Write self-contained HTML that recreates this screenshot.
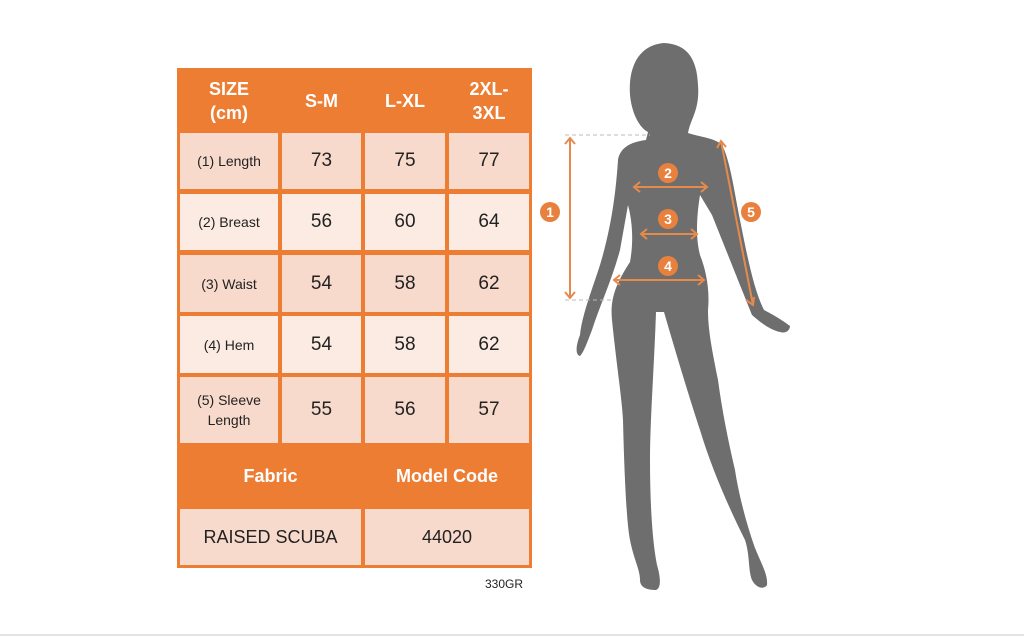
<!DOCTYPE html>
<html><head><style>
body{margin:0;width:1024px;height:638px;background:#fff;position:relative;overflow:hidden;font-family:"Liberation Sans",sans-serif}
.t{position:absolute;left:177px;top:68px;width:355px;height:500px;background:#ec7d32}
.c{position:absolute;display:flex;align-items:center;justify-content:center;text-align:center;color:#222}
.h{color:#fff;font-weight:bold;font-size:18px;line-height:24px}
.a{background:#f8dacd}.b{background:#fcebe3}
.n{font-size:19px}.l{font-size:14px;line-height:20px}
</style></head><body>
<div class="t"></div>
<div class="c h" style="left:180px;top:70px;width:98px;height:61px">SIZE<br>(cm)</div>
<div class="c h" style="left:282px;top:70px;width:79px;height:61px">S-M</div>
<div class="c h" style="left:365px;top:70px;width:80px;height:61px">L-XL</div>
<div class="c h" style="left:449px;top:70px;width:80px;height:61px">2XL-<br>3XL</div>

<div class="c a l" style="left:180px;top:133px;width:98px;height:56px">(1) Length</div>
<div class="c a n" style="left:282px;top:133px;width:79px;height:56px">73</div>
<div class="c a n" style="left:365px;top:133px;width:80px;height:56px">75</div>
<div class="c a n" style="left:449px;top:133px;width:80px;height:56px">77</div>

<div class="c b l" style="left:180px;top:194px;width:98px;height:56px">(2) Breast</div>
<div class="c b n" style="left:282px;top:194px;width:79px;height:56px">56</div>
<div class="c b n" style="left:365px;top:194px;width:80px;height:56px">60</div>
<div class="c b n" style="left:449px;top:194px;width:80px;height:56px">64</div>

<div class="c a l" style="left:180px;top:255px;width:98px;height:57px">(3) Waist</div>
<div class="c a n" style="left:282px;top:255px;width:79px;height:57px">54</div>
<div class="c a n" style="left:365px;top:255px;width:80px;height:57px">58</div>
<div class="c a n" style="left:449px;top:255px;width:80px;height:57px">62</div>

<div class="c b l" style="left:180px;top:316px;width:98px;height:57px">(4) Hem</div>
<div class="c b n" style="left:282px;top:316px;width:79px;height:57px">54</div>
<div class="c b n" style="left:365px;top:316px;width:80px;height:57px">58</div>
<div class="c b n" style="left:449px;top:316px;width:80px;height:57px">62</div>

<div class="c a l" style="left:180px;top:377px;width:98px;height:66px">(5) Sleeve<br>Length</div>
<div class="c a n" style="left:282px;top:377px;width:79px;height:66px">55</div>
<div class="c a n" style="left:365px;top:377px;width:80px;height:66px">56</div>
<div class="c a n" style="left:449px;top:377px;width:80px;height:66px">57</div>

<div class="c h" style="left:180px;top:445px;width:181px;height:62px">Fabric</div>
<div class="c h" style="left:365px;top:445px;width:164px;height:62px">Model Code</div>
<div class="c a" style="left:180px;top:509px;width:181px;height:56px;font-size:18px">RAISED SCUBA</div>
<div class="c a" style="left:365px;top:509px;width:164px;height:56px;font-size:18px">44020</div>
<div style="position:absolute;left:485px;top:577px;font-size:12px;color:#222">330GR</div>
<div style="position:absolute;left:0;top:634px;width:1024px;height:2px;background:#e4e4e4"></div>

<svg style="position:absolute;left:0;top:0" width="1024" height="638">
<path fill="#6e6e6e" d="M664,43 C640,45 628,65 630,95 C632,115 640,128 648,132 L646,140 C630,142 620,148 618,160 C616,190 612,225 600,265 C592,290 582,315 580,335 C576,345 575,355 580,356 C584,352 588,340 592,330 C600,305 612,280 620,250 L628,205 C632,220 634,240 630,262 C615,285 610,300 612,320 C616,360 622,400 623,420 C624,460 626,520 630,540 C634,560 640,570 640,580 C640,588 648,590 656,590 C662,588 660,575 657,565 C652,540 650,500 650,460 C650,420 654,370 656,312 L664,312 C675,350 690,400 700,430 C712,470 730,510 745,540 C750,555 748,570 752,580 C756,588 764,590 767,585 C768,575 762,565 755,548 C745,520 738,490 735,470 C728,440 722,410 718,380 C712,350 708,330 708,310 C710,290 706,270 700,255 C696,240 696,220 700,195 L712,215 C730,260 742,290 752,315 C760,322 770,330 780,332 C786,334 790,330 790,326 C782,320 772,314 764,310 C754,290 748,260 740,220 C734,190 730,160 722,145 C715,138 700,137 688,133 C690,120 700,110 698,85 C697,60 688,44 664,43 Z"/>
<g stroke="#e58a4b" stroke-width="2" fill="none">
<path d="M565,135 L650,135 M565,300 L612,300" stroke="#bbb" stroke-dasharray="4,3" stroke-width="1"/>
<path d="M570,138 L570,298 M565,144 L570,138 L575,144 M565,292 L570,298 L575,292"/>
<path d="M634,187 L707,187 M640,182 L634,187 L640,192 M701,182 L707,187 L701,192"/>
<path d="M641,234 L697,234 M647,229 L641,234 L647,239 M691,229 L697,234 L691,239"/>
<path d="M614,280 L704,280 M620,275 L614,280 L620,285 M698,275 L704,280 L698,285"/>
<path d="M721,141 L753,305 M717,148 L721,141 L726,147 M746,300 L753,305 L754,297"/>
</g>
<g fill="#e8813d">
<circle cx="550" cy="212" r="10"/><circle cx="668" cy="173" r="10"/><circle cx="668" cy="219" r="10"/><circle cx="668" cy="266" r="10"/><circle cx="751" cy="212" r="10"/>
</g>
<g fill="#fff" font-size="14" font-weight="bold" text-anchor="middle" font-family="Liberation Sans">
<text x="550" y="217">1</text><text x="668" y="178">2</text><text x="668" y="224">3</text><text x="668" y="271">4</text><text x="751" y="217">5</text>
</g>
</svg>
</body></html>
